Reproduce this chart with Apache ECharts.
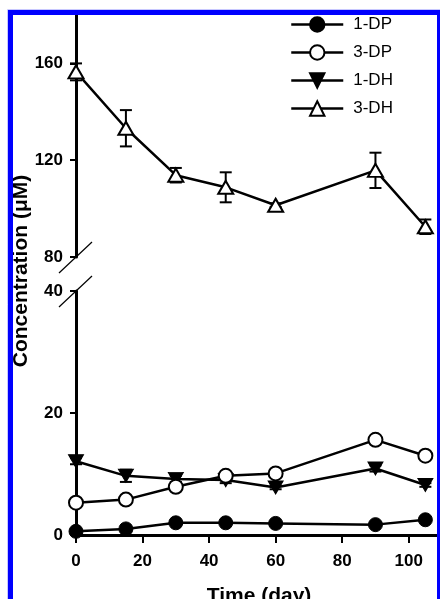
<!DOCTYPE html>
<html><head><meta charset="utf-8">
<script src="https://cdn.jsdelivr.net/npm/echarts@6/dist/echarts.min.js"></script>
<style>html,body{margin:0;padding:0;background:#fff}#c{width:440px;height:599px}</style>
</head><body><div id="c"></div>
<script>
const days = [0, 15, 30, 45, 60, 90, 105];
const dp1 = [0.6, 1.0, 2.0, 2.0, 1.9, 1.7, 2.5];
const dp3 = [5.3, 5.8, 7.9, 9.7, 10.1, 15.6, 13.0];
const dh1 = [12.1, 9.7, 9.2, 9.0, 7.8, 10.9, 8.2];
const dh1Err = [0.5, 1.0, 0.5, 0.5, 0.3, 0.5, 0.3];
const dh3 = [156.5, 133.2, 113.8, 108.8, 101.4, 115.8, 92.5];
const dh3Err = [3.5, 7.5, 3.0, 6.2, 0.8, 7.3, 3.0];
const xTicks = [0, 20, 40, 60, 80, 100];
const yTicksUpper = [80, 120, 160];
const yTicksLower = [0, 20, 40];
const legendNames = ['1-DP', '3-DP', '1-DH', '3-DH'];

const FONT = 'Liberation Sans, Arial, Helvetica, sans-serif';
const chart = echarts.init(document.getElementById('c'), null, {renderer: 'canvas'});

function pairs(vals) { return days.map((d, i) => [d, vals[i]]); }
function errData(vals, errs) { return days.map((d, i) => [d, vals[i], errs[i]]); }
function errRender(params, api) {
  const x = api.value(0), y = api.value(1), e = api.value(2);
  const top = api.coord([x, y + e]);
  const bot = api.coord([x, y - e]);
  const hw = 6;
  const style = {stroke: '#000', lineWidth: 2};
  return {type: 'group', children: [
    {type: 'line', shape: {x1: top[0], y1: top[1], x2: bot[0], y2: bot[1]}, style: style},
    {type: 'line', shape: {x1: top[0] - hw, y1: top[1], x2: top[0] + hw, y2: top[1]}, style: style},
    {type: 'line', shape: {x1: bot[0] - hw, y1: bot[1], x2: bot[0] + hw, y2: bot[1]}, style: style}
  ]};
}

const axisLabelStyle = {color: '#000', fontFamily: FONT, fontWeight: 'bold', fontSize: 17};
const invTri = 'path://M0,0L10,0L5,9Z';

const xBase = {
  type: 'value', min: 0, max: 110,
  splitLine: {show: false},
  axisLine: {show: true, onZero: false, lineStyle: {color: '#000', width: 3}},
  axisTick: {show: true, inside: false, length: 8, customValues: xTicks, lineStyle: {color: '#000', width: 2}},
  axisLabel: Object.assign({margin: 18, customValues: xTicks}, axisLabelStyle)
};

const option = {
  animation: false,
  backgroundColor: '#fff',
  grid: [
    {left: 76, top: 15, width: 366, height: 242, outerBoundsMode: 'none', containLabel: false},
    {left: 76, top: 291, width: 366, height: 244, outerBoundsMode: 'none', containLabel: false}
  ],
  xAxis: [
    Object.assign({}, xBase, {gridIndex: 0, show: false}),
    Object.assign({}, xBase, {gridIndex: 1, name: 'Time (day)', nameLocation: 'middle', nameGap: 51,
      nameTextStyle: {color: '#000', fontFamily: FONT, fontWeight: 'bold', fontSize: 21}})
  ],
  yAxis: [
    {gridIndex: 0, type: 'value', min: 80, max: 180, splitLine: {show: false},
      axisLine: {show: true, lineStyle: {color: '#000', width: 3}},
      axisTick: {show: true, length: 6, customValues: yTicksUpper, lineStyle: {color: '#000', width: 2}},
      axisLabel: Object.assign({margin: 13, customValues: yTicksUpper}, axisLabelStyle)},
    {gridIndex: 1, type: 'value', min: 0, max: 40, splitLine: {show: false},
      axisLine: {show: true, lineStyle: {color: '#000', width: 3}},
      axisTick: {show: true, length: 6, customValues: yTicksLower, lineStyle: {color: '#000', width: 2}},
      axisLabel: Object.assign({margin: 13, customValues: yTicksLower}, axisLabelStyle)}
  ],
  legend: {
    data: legendNames, orient: 'vertical', left: 290, top: 16, padding: 0,
    itemWidth: 52, itemHeight: 18, itemGap: 11,
    lineStyle: {width: 2.5},
    textStyle: {color: '#000', fontFamily: FONT, fontSize: 17, padding: [0, 0, 0, 5]}
  },
  series: [
    {type: 'custom', name: 'err3DH', xAxisIndex: 0, yAxisIndex: 0, renderItem: errRender,
      data: errData(dh3, dh3Err), encode: {x: 0, y: 1}, z: 1, silent: true},
    {type: 'custom', name: 'err1DH', xAxisIndex: 1, yAxisIndex: 1, renderItem: errRender,
      data: errData(dh1, dh1Err), encode: {x: 0, y: 1}, z: 1, silent: true},
    {type: 'line', name: '1-DP', xAxisIndex: 1, yAxisIndex: 1, data: pairs(dp1),
      symbol: 'circle', symbolSize: 14, lineStyle: {color: '#000', width: 2.5},
      itemStyle: {color: '#000', borderColor: '#000', borderWidth: 1}, z: 3},
    {type: 'line', name: '3-DP', xAxisIndex: 1, yAxisIndex: 1, data: pairs(dp3),
      symbol: 'circle', symbolSize: 14, lineStyle: {color: '#000', width: 2.5},
      itemStyle: {color: '#fff', borderColor: '#000', borderWidth: 2}, z: 4},
    {type: 'line', name: '1-DH', xAxisIndex: 1, yAxisIndex: 1, data: pairs(dh1),
      symbol: invTri, symbolSize: [15, 13], lineStyle: {color: '#000', width: 2.5},
      itemStyle: {color: '#000', borderColor: '#000', borderWidth: 1}, z: 3},
    {type: 'line', name: '3-DH', xAxisIndex: 0, yAxisIndex: 0, data: pairs(dh3),
      symbol: 'triangle', symbolSize: [15, 13], lineStyle: {color: '#000', width: 2.5},
      itemStyle: {color: '#fff', borderColor: '#000', borderWidth: 2}, z: 4}
  ],
  graphic: [
    {id: 'ytitle', type: 'text', x: 21, y: 271, rotation: Math.PI / 2, z: 10,
      style: {text: 'Concentration (\u03bcM)', fill: '#000', fontFamily: FONT, fontWeight: 'bold', fontSize: 21,
        textAlign: 'center', textVerticalAlign: 'middle', align: 'center', verticalAlign: 'middle'}},
    {id: 'outerline', type: 'rect', z: 19, silent: true, shape: {x: 7.5, y: 9.5, width: 440, height: 600},
      style: {fill: 'none', stroke: '#c8c8ff', lineWidth: 1}},
    {id: 'border', type: 'rect', z: 20, silent: true, shape: {x: 10.5, y: 12.5, width: 429, height: 600},
      style: {fill: 'none', stroke: '#0000fe', lineWidth: 5}}
  ]
};
chart.setOption(option);

const p80 = chart.convertToPixel({xAxisIndex: 0, yAxisIndex: 0}, [0, 80]);
const p40 = chart.convertToPixel({xAxisIndex: 1, yAxisIndex: 1}, [0, 40]);
const brk = {stroke: '#000', lineWidth: 1.2};
chart.setOption({graphic: [
  {id: 'brk1', type: 'line', z: 5, shape: {x1: p80[0] - 17, y1: p80[1] + 16, x2: p80[0] + 16, y2: p80[1] - 15}, style: brk},
  {id: 'brk2', type: 'line', z: 5, shape: {x1: p40[0] - 17, y1: p40[1] + 16, x2: p40[0] + 16, y2: p40[1] - 15}, style: brk}
]});
</script></body></html>
